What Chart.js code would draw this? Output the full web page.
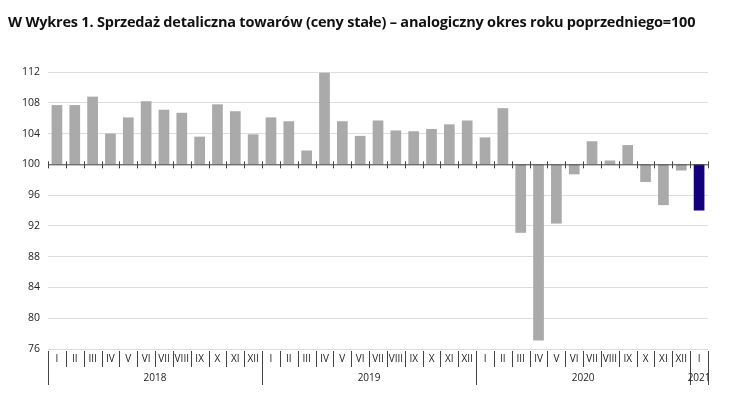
<!DOCTYPE html>
<html><head><meta charset="utf-8">
<script src="https://cdn.jsdelivr.net/npm/chart.js@4"></script>
<style>body{margin:0;background:#fff}#w{position:relative;width:738px;height:404px}
#t{position:absolute;left:8px;top:12px;font:bold 14.5px "Open Sans",sans-serif;color:#111;letter-spacing:-0.2px}</style>
</head><body><div id="w"><div id="t">W Wykres 1. Sprzedaż detaliczna towarów (ceny stałe) – analogiczny okres roku poprzedniego=100</div><canvas id="c" width="738" height="404"></canvas></div>
<script>
const months=["I","II","III","IV","V","VI","VII","VIII","IX","X","XI","XII","I","II","III","IV","V","VI","VII","VIII","IX","X","XI","XII","I","II","III","IV","V","VI","VII","VIII","IX","X","XI","XII","I"];
const years=[{label:"2018",from:0,to:11},{label:"2019",from:12,to:23},{label:"2020",from:24,to:35},{label:"2021",from:36,to:36}];
const values=[107.7,107.7,108.8,104.0,106.1,108.2,107.1,106.7,103.6,107.8,106.9,103.9,
106.1,105.6,101.8,111.9,105.6,103.7,105.7,104.4,104.3,104.6,105.2,105.7,
103.5,107.3,91.1,77.1,92.3,98.7,103.0,100.5,102.5,97.7,94.7,99.2,94.0];
const base=100;
const colors=values.map((v,i)=>i===values.length-1?'#13007c':'#aaaaaa');
const axisPlugin={id:'ax',afterDraw(ch){
 const c=ch.ctx,x=ch.scales.x,y=ch.scales.y,y0=y.getPixelForValue(base),bot=ch.chartArea.bottom;
 const step=x.getPixelForValue(1)-x.getPixelForValue(0);
 c.save();c.strokeStyle='#444';c.lineWidth=1;
 c.beginPath();c.moveTo(ch.chartArea.left,y0+0.5);c.lineTo(ch.chartArea.right,y0+0.5);c.stroke();
 c.fillStyle='#222';c.font='10px "Open Sans",sans-serif';c.textAlign='center';c.textBaseline='middle';
 for(let i=0;i<=months.length;i++){const px=Math.round(x.getPixelForValue(i)-step/2)+0.5;
  c.beginPath();c.moveTo(px,y0-3);c.lineTo(px,y0+4);c.stroke();
  c.beginPath();c.moveTo(px,bot+2);c.lineTo(px,bot+18);c.stroke();}
 months.forEach((m,i)=>c.fillText(m,x.getPixelForValue(i),bot+10));
 years.forEach(yr=>{const a=x.getPixelForValue(yr.from)-step/2,b=x.getPixelForValue(yr.to)+step/2;
  [a,b].forEach(px=>{px=Math.round(px)+0.5;c.beginPath();c.moveTo(px,bot+18);c.lineTo(px,bot+36);c.stroke();});
  c.fillText(yr.label,(a+b)/2,bot+29);});
 c.restore();}};
new Chart(document.getElementById('c'),{type:'bar',
 data:{labels:months,datasets:[{data:values.map(v=>[base,v]),backgroundColor:colors,barPercentage:0.6,categoryPercentage:1}]},
 options:{responsive:false,animation:false,layout:{padding:{top:72,bottom:55,left:14,right:30}},
  plugins:{legend:{display:false},tooltip:{enabled:false}},
  scales:{x:{display:false},
   y:{min:76,max:112,ticks:{stepSize:2,color:'#222',font:{size:10.5,family:'"Open Sans",sans-serif'},padding:8},
      grid:{color:'#dddddd',drawTicks:false},border:{display:false}}}},
 plugins:[axisPlugin]});
</script></body></html>
